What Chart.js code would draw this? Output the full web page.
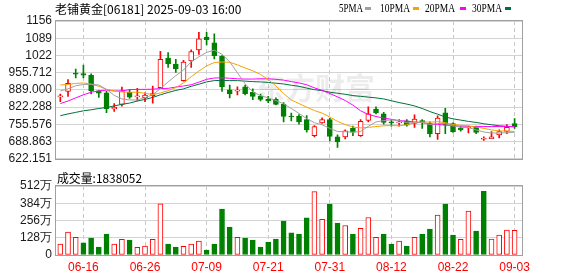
<!DOCTYPE html>
<html>
<head>
<meta charset="utf-8">
<script src="https://cdn.jsdelivr.net/npm/chart.js@4.4.1/dist/chart.umd.min.js"></script>
<style>
  html, body { margin: 0; padding: 0; background: #fff; }
  #wrap { position: relative; width: 578px; height: 276px; }
  #kline { position: absolute; left: 0; top: 0; }
  #vol { position: absolute; left: 0; top: 170px; }
</style>
</head>
<body>
<div id="wrap">
  <canvas id="kline" width="578" height="170"></canvas>
  <canvas id="vol" width="578" height="106"></canvas>
</div>
<script>
// 老铺黄金 06181, daily bars 06-11 .. 09-03
var dates = ['06-11','06-12','06-13','06-16','06-17','06-18','06-19','06-20','06-23','06-24',
             '06-25','06-26','06-27','06-30','07-02','07-03','07-04','07-07','07-08','07-09',
             '07-10','07-11','07-14','07-15','07-16','07-17','07-18','07-21','07-22','07-23',
             '07-24','07-25','07-28','07-29','07-30','07-31','08-01','08-04','08-05','08-06',
             '08-07','08-08','08-11','08-12','08-13','08-14','08-15','08-18','08-19','08-20',
             '08-21','08-22','08-25','08-26','08-27','08-28','08-29','09-01','09-02','09-03'];

var opens  = [862,883,952,952,945,885,878,815,833,880, 862,859,867,898,1012,989,925,1001,1044,1094,
              1071,1019,889,884,901,880,864,852,852,833, 787,787,774,712,761,774,707,707,740,712,
              771,815,796,763,761,769,759,770,759,719, 800,759,740,742,744,698,700,715,728,759];
var highs  = [873,929,970,985,951,886,883,836,900,890, 895,878,904,1038,1034,1007,1004,1044,1112,1112,
              1106,1022,908,901,908,893,873,864,858,840, 799,793,790,751,781,779,715,734,749,774,
              823,823,802,774,774,774,792,774,765,789, 818,761,747,749,749,707,728,734,755,778];
var lows   = [843,864,935,935,873,860,801,806,826,856, 846,843,838,895,976,957,923,976,1026,1063,
              1009,883,858,870,870,851,846,840,831,765, 769,756,725,707,759,691,666,699,712,709,
              765,796,756,749,749,749,744,740,707,697, 719,724,729,722,719,693,700,703,719,740];
var closes = [865,914,950,946,885,876,816,822,885,861, 865,869,875,1007,991,970,997,1037,1087,1084,
              1022,901,873,886,874,864,852,846,833,786, 784,765,734,747,774,709,688,730,725,767,
              796,800,763,761,763,752,776,763,719,780, 752,727,734,744,724,700,707,728,744,747];

// volume in 万 shares
var volumes = [81,170,131,91,126,59,155,81,116,111, 57,67,116,380,81,59,64,81,103,37,
               81,340,207,131,126,111,59,96,118,251, 165,155,275,470,264,377,237,219,155,197,
               278,131,155,81,103,67,131,155,192,296, 377,148,116,325,177,473,118,148,185,183.8052];

var ma5  = [885,893,905,910,911,908,891,868,854,850, 850,859,870,894,920,944,966,998,1017,1034,
            1043,1027,998,955,913,881,867,858,848,835, 817,798,778,762,754,740,728,727,725,728,
            748,765,770,773,770,762,761,763,755,759, 758,750,744,743,734,726,722,722,723,725];
var ma10 = [908,910,914,916,911,903,891,885,881,880, 880,876,871,877,886,898,916,940,962,982,
            995,997,996,986,974,963,949,929,904,875, 850,836,822,809,799,784,767,755,745,742,
            744,747,750,751,750,754,763,765,764,766, 762,755,752,749,745,740,734,730,730,728];
var ma20 = [836,846,858,870,880,885,888,885,885,890, 891,891,892,894,895,900,904,909,919,930,
            935,936,934,932,931,931,932,932,930,927, 921,916,909,897,887,875,862,848,830,808,
            794,786,780,775,770,768,765,762,757,755, 753,750,749,748,747,747,747,747,747,747];
var ma30 = [789,796,802,808,812,817,821,827,833,838, 846,852,860,870,879,887,893,903,911,920,
            925,926,925,925,923,921,920,918,915,912, 907,903,896,890,886,880,876,872,867,864,
            861,858,854,847,840,834,827,817,805,795, 784,777,772,767,763,758,754,750,748,746];

var priceTicks  = [622.151, 688.863, 755.576, 822.288, 889.000, 955.712, 1022.424, 1089.136, 1155.848];
var priceLabels = ['622.151','688.863','755.576','822.288','889.000','955.712','1022','1089','1156'];
var volTicks  = [0, 128, 256, 384, 512];
var volLabels = ['0', '128万', '256万', '384万', '512万'];

var maNames  = ['5PMA', '10PMA', '20PMA', '30PMA'];
var maColors = ['#a0a0a0', '#f5a300', '#ff00ff', '#00703c'];
var title = '老铺黄金[06181] 2025-09-03 16:00';
var volTitle = '成交量:1838052';

var RED = '#ff0000', GREEN = '#008000';
var labelFont = { family: '"Liberation Sans", Arial, sans-serif', size: 12 };

function pts(arr) { return arr.map(function(v, i) { return { x: i, y: v }; }); }

var candleUp = closes.map(function(c, i) { return c >= opens[i]; });
var volUp = closes.map(function(c, i) { return i === 0 ? true : c >= closes[i - 1]; });

var bodies = closes.map(function(c, i) { return { x: i, y: [opens[i], c] }; });
var wicks  = highs.map(function(h, i) { return { x: i, y: [lows[i], h] }; });
var volPts = pts(volumes);

// x ticks every 8 bars, ending at the last bar
function dateTicks(scale) {
  var t = [];
  for (var i = dates.length - 1; i >= 0; i -= 8) t.unshift({ value: i });
  scale.ticks = t;
}

function xScale(showLabels) {
  return {
    type: 'linear', min: -0.56, max: 59.96, offset: false,
    grid: { offset: false, color: '#c8c8c8', drawTicks: false },
    border: { display: false, dash: [4, 3] },
    ticks: { display: showLabels, color: RED, font: labelFont, padding: 5,
             autoSkip: false, maxRotation: 0,
             callback: function(v) { return dates[v]; } },
    afterBuildTicks: dateTicks,
    afterFit: function(s) { s.height = showLabels ? 21 : 0; }
  };
}

function yScale(min, max, ticks, labels) {
  return {
    min: min, max: max,
    grid: { color: '#d3d3d3', drawTicks: false },
    border: { display: false },
    ticks: { padding: 4, color: '#1a1a1a', font: labelFont, autoSkip: false,
             callback: function(v, i) { return labels[i]; } },
    afterBuildTicks: function(s) { s.ticks = ticks.map(function(v) { return { value: v }; }); },
    afterFit: function(s) { s.width = 56; }
  };
}

var framePlugin = {
  id: 'frame',
  afterDraw: function(chart) {
    var a = chart.chartArea, ctx = chart.ctx;
    ctx.save();
    ctx.strokeStyle = '#a0a0a0';
    ctx.lineWidth = 1;
    ctx.strokeRect(Math.round(a.left) - 0.5, Math.round(a.top) - 0.5,
                   Math.round(a.right - a.left) + 1, Math.round(a.bottom - a.top) + 1);
    ctx.restore();
  }
};

var headerPlugin = {
  id: 'header',
  beforeDatasetsDraw: function(chart) {
    var ctx = chart.ctx;
    ctx.save();
    ctx.fillStyle = 'rgba(0,0,0,0.075)';
    ctx.font = 'bold 30px "Noto Sans CJK SC"';
    ctx.textBaseline = 'middle';
    ctx.fillText('东方财富', 255, 88);
    ctx.restore();
  },
  afterDraw: function(chart) {
    var ctx = chart.ctx;
    ctx.save();
    ctx.fillStyle = '#000';
    ctx.textBaseline = 'middle';
    ctx.font = '12px "Noto Sans CJK SC"';
    ctx.fillText(title, 55, 9, 192);
    var tx = [339, 380, 425, 472], bx = [365, 413, 460, 505], tw = [24, 30, 30, 30];
    ctx.font = '13px "Liberation Serif", serif';
    for (var i = 0; i < maNames.length; i++) {
      ctx.fillStyle = '#000';
      ctx.fillText(maNames[i], tx[i], 9, tw[i]);
      ctx.fillStyle = maColors[i];
      ctx.fillRect(bx[i], 7, 6, 3);
    }
    ctx.restore();
  }
};

var volTitlePlugin = {
  id: 'volTitle',
  afterDraw: function(chart) {
    var ctx = chart.ctx;
    ctx.save();
    ctx.fillStyle = '#000';
    ctx.textBaseline = 'middle';
    ctx.font = '12px "Noto Sans CJK SC"';
    ctx.fillText(volTitle, 57, 8, 85);
    ctx.restore();
  }
};

function maSet(arr, k) {
  return { type: 'line', data: pts(arr), borderColor: maColors[k], borderWidth: 1,
           pointRadius: 0, tension: 0, order: 0 };
}

new Chart(document.getElementById('kline'), {
  type: 'bar',
  data: {
    datasets: [
      maSet(ma5, 0), maSet(ma10, 1), maSet(ma20, 2), maSet(ma30, 3),
      { data: bodies, grouped: false, barThickness: 5, minBarLength: 1,
        backgroundColor: candleUp.map(function(u) { return u ? '#ffffff' : GREEN; }),
        borderColor: candleUp.map(function(u) { return u ? RED : GREEN; }),
        borderWidth: 1, borderSkipped: false, order: 1 },
      { data: wicks, grouped: false, barThickness: 1,
        backgroundColor: candleUp.map(function(u) { return u ? RED : GREEN; }),
        borderWidth: 0, order: 2 }
    ]
  },
  options: {
    responsive: false, animation: false, events: [],
    layout: { padding: { top: 21, right: 56, bottom: 5, left: 0 } },
    plugins: { legend: { display: false }, tooltip: { enabled: false } },
    scales: {
      x: xScale(false),
      y: yScale(priceTicks[0], priceTicks[priceTicks.length - 1], priceTicks, priceLabels)
    }
  },
  plugins: [headerPlugin, framePlugin]
});

new Chart(document.getElementById('vol'), {
  type: 'bar',
  data: {
    datasets: [{
      data: volPts, grouped: false, barThickness: 5,
      backgroundColor: volUp.map(function(u) { return u ? '#ffffff' : GREEN; }),
      borderColor: volUp.map(function(u) { return u ? RED : GREEN; }),
      borderWidth: 1, borderSkipped: false
    }]
  },
  options: {
    responsive: false, animation: false, events: [],
    layout: { padding: { top: 16, right: 56, bottom: 0, left: 0 } },
    plugins: { legend: { display: false }, tooltip: { enabled: false } },
    scales: {
      x: xScale(true),
      y: yScale(0, 512, volTicks, volLabels)
    }
  },
  plugins: [volTitlePlugin, framePlugin]
});
</script>
</body>
</html>
